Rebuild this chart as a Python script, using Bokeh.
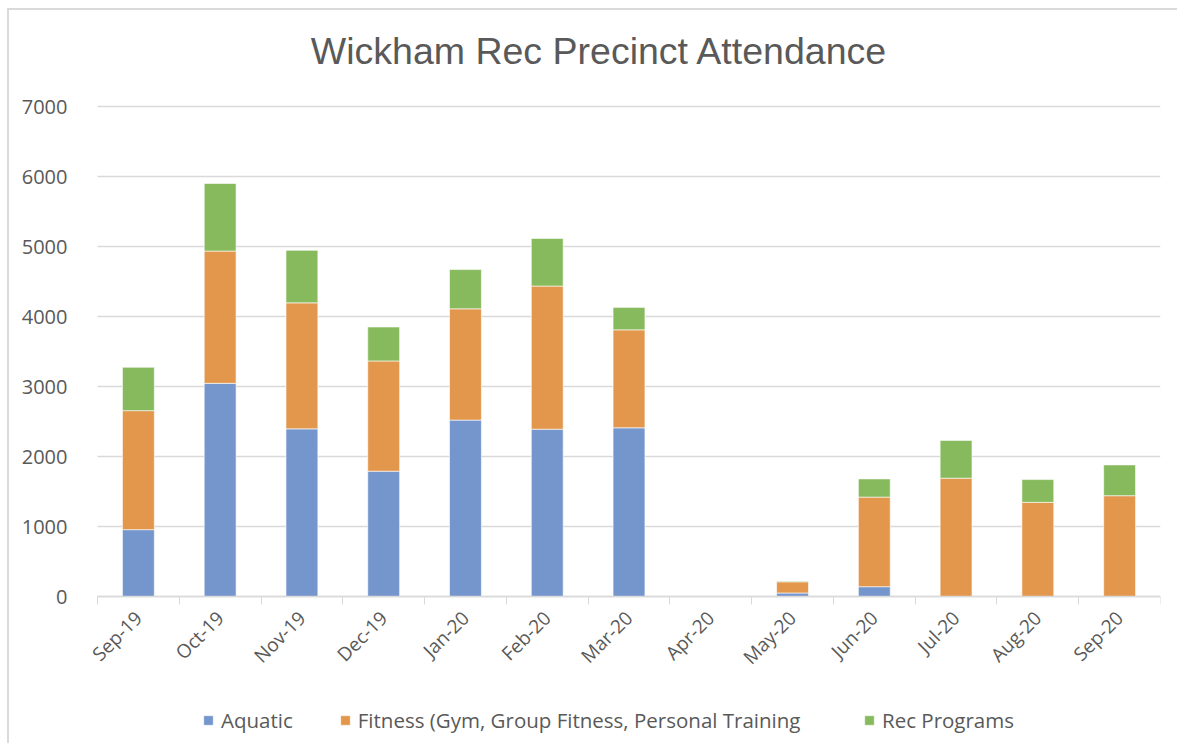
from bokeh.plotting import figure
from bokeh.models import (Range1d, FixedTicker, Legend, LegendItem, NumeralTickFormatter, Label)
from bokeh.embed import file_html
from bokeh.resources import INLINE
import math

months = ["Sep-19", "Oct-19", "Nov-19", "Dec-19", "Jan-20", "Feb-20", "Mar-20",
          "Apr-20", "May-20", "Jun-20", "Jul-20", "Aug-20", "Sep-20"]
aquatic = [955, 3045, 2395, 1790, 2520, 2390, 2410, 0, 50, 140, 0, 0, 0]
fitness = [1700, 1890, 1800, 1575, 1590, 2045, 1400, 0, 160, 1280, 1690, 1345, 1440]
rec = [620, 965, 750, 485, 560, 680, 320, 0, 10, 260, 540, 325, 440]
series_names = ["Aquatic", "Fitness (Gym, Group Fitness, Personal Training", "Rec Programs"]
colors = ["#7496CD", "#E2974C", "#86BA5C"]
y_ticks = [0, 1000, 2000, 3000, 4000, 5000, 6000, 7000]
title_text = "Wickham Rec Precinct Attendance"

TXT = "#595959"
GRID = "#d9d9d9"

# frame: page x 78..1160, page y 10..745; plot area of the categories starts at x=97
PX = 0.07
n = len(months)
cat_px = (1160 - 97) / n
p = figure(width=1170, height=735, output_backend="svg", toolbar_location=None,
           x_range=Range1d(-(97 - 78) / cat_px, n),
           y_range=Range1d(-(745 - 596) / PX, 7000 + (106 - 10) / PX),
           min_border_left=69, min_border_right=19, min_border_top=0, min_border_bottom=0)
p.outline_line_color = None
p.styles = {"border-left": "2px solid #dadada", "border-top": "2px solid #dadada",
            "margin-left": "7px", "margin-top": "8px"}

centers = [i + 0.5 for i in range(n)]
data = dict(x=centers, aquatic=aquatic, fitness=fitness, rec=rec)
renderers = p.vbar_stack(["aquatic", "fitness", "rec"], x="x", width=0.39, source=data,
                         color=colors, line_color="white", line_alpha=0.6, line_width=1)

# x axis fixed at y = 0 inside the frame
xa = p.xaxis[0]
xa.fixed_location = 0
xa.bounds = (0, n)
xa.ticker = FixedTicker(ticks=centers, minor_ticks=list(range(n + 1)))
xa.major_label_overrides = {c: m for c, m in zip(centers, months)}
xa.major_label_orientation = math.pi / 4
xa.major_tick_line_color = None
xa.minor_tick_line_color = GRID
xa.minor_tick_in = 0
xa.minor_tick_out = 8
xa.axis_line_color = GRID
xa.axis_line_width = 1.5
xa.major_label_text_font = "Open Sans"
xa.major_label_text_font_size = "19px"
xa.major_label_text_color = TXT
xa.major_label_standoff = 10

p.yaxis.ticker = FixedTicker(ticks=y_ticks)
p.yaxis.formatter = NumeralTickFormatter(format="0")
p.yaxis.axis_line_color = None
p.yaxis.major_tick_line_color = None
p.yaxis.minor_tick_line_color = None
p.yaxis.major_label_text_font = "Open Sans"
p.yaxis.major_label_text_font_size = "20px"
p.yaxis.major_label_text_color = TXT
p.yaxis.major_label_standoff = 5

p.xgrid.grid_line_color = None
p.ygrid.ticker = FixedTicker(ticks=y_ticks)
p.ygrid.grid_line_color = GRID
p.ygrid.grid_line_width = 1.5
p.ygrid.cross_bounds = (0, n)

# title centred on the whole chart box
p.add_layout(Label(x=(599 - 97) / cat_px, y=7000 + (106 - 50) / PX, text=title_text,
                   text_align="center", text_baseline="middle", text_font="Liberation Sans",
                   text_font_size="37.5px", text_color=TXT))

leg_style = dict(orientation="horizontal", glyph_width=12, glyph_height=12,
                 label_standoff=7, spacing=46, padding=0, margin=0,
                 border_line_color=None, background_fill_alpha=0, label_text_font="Open Sans",
                 label_text_font_size="20.5px", label_text_color=TXT)
legend1 = Legend(items=[LegendItem(label=nm, renderers=[r])
                        for nm, r in zip(series_names[:2], renderers[:2])],
                 location=(202 - 78, 745 - 734), **leg_style)
legend2 = Legend(items=[LegendItem(label=series_names[2], renderers=[renderers[2]])],
                 location=(863 - 78, 745 - 734), **leg_style)
p.add_layout(legend1, "center")
p.add_layout(legend2, "center")

open("out.html", "w").write(file_html(p, INLINE))
